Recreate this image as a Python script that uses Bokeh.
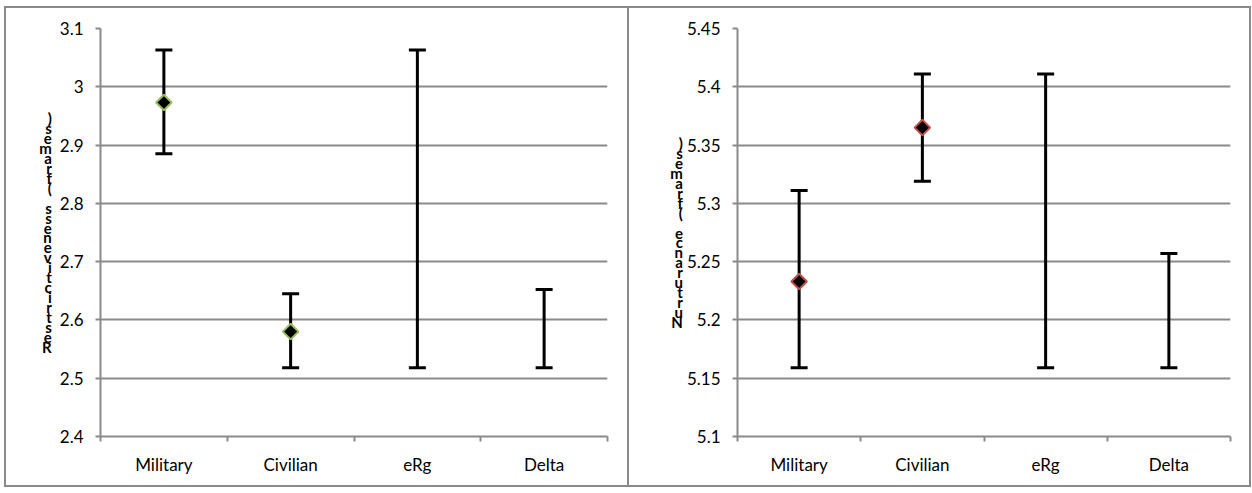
import math
from bokeh.plotting import figure
from bokeh.models import FixedTicker, Range1d, ColumnDataSource, Whisker, TeeHead, Spacer
from bokeh.layouts import row, column
from bokeh.embed import file_html
from bokeh.resources import INLINE

# ---- data ----
categories = ["Military", "Civilian", "eRg", "Delta"]
marker_categories = ["Military", "Civilian"]

left_lower = [2.885, 2.518, 2.518, 2.518]
left_upper = [3.063, 2.645, 3.063, 2.652]
left_means = [2.973, 2.580]
left_ticks = [2.4, 2.5, 2.6, 2.7, 2.8, 2.9, 3.0, 3.1]
left_tick_labels = ["2.4", "2.5", "2.6", "2.7", "2.8", "2.9", "3", "3.1"]
left_ylabel = "Restrictiveness (frames)"

right_lower = [5.159, 5.319, 5.159, 5.159]
right_upper = [5.311, 5.411, 5.411, 5.257]
right_means = [5.233, 5.365]
right_ticks = [5.1, 5.15, 5.2, 5.25, 5.3, 5.35, 5.4, 5.45]
right_tick_labels = ["5.1", "5.15", "5.2", "5.25", "5.3", "5.35", "5.4", "5.45"]
right_ylabel = "Nurturance (frames)"

GRID = "#8a8a8a"
FONT = "Lato"


def make_panel(lower, upper, means, ticks, tick_labels, ylabel, marker_color,
               width, mb_left, mb_right, label_standoff):
    p = figure(width=width, height=477, output_backend="svg", toolbar_location=None,
               x_range=Range1d(0, len(categories)),
               y_range=Range1d(ticks[0], ticks[-1]),
               min_border_left=mb_left, min_border_right=mb_right,
               min_border_top=20, min_border_bottom=49,
               styles={"outline": "2px solid " + GRID})
    p.outline_line_color = None
    p.background_fill_color = "white"
    p.border_fill_color = "white"

    xs = [i + 0.5 for i in range(len(categories))]
    src = ColumnDataSource(dict(x=xs, lower=lower, upper=upper))
    w = Whisker(base="x", upper="upper", lower="lower", source=src,
                line_color="black", line_width=3,
                upper_head=TeeHead(size=17, line_width=3, line_color="black"),
                lower_head=TeeHead(size=17, line_width=3, line_color="black"))
    p.add_layout(w)

    mx = [categories.index(c) + 0.5 for c in marker_categories]
    p.scatter(x=mx, y=means, marker="square", size=11, angle=math.pi / 4,
              fill_color="black", line_color=marker_color, line_width=2)

    # x axis: ticks at category boundaries, labels at centres
    xa = p.xaxis[0]
    xa.ticker = FixedTicker(ticks=xs, minor_ticks=list(range(len(categories) + 1)))
    xa.major_label_overrides = {x: c for x, c in zip(xs, categories)}
    xa.major_tick_out = 0
    xa.major_tick_in = 0
    xa.minor_tick_out = 5
    xa.minor_tick_in = 0
    xa.minor_tick_line_color = GRID
    xa.minor_tick_line_width = 2
    xa.axis_line_color = GRID
    xa.axis_line_width = 2
    xa.major_label_standoff = 12
    xa.major_label_text_font = FONT
    xa.major_label_text_font_size = "17px"
    xa.major_label_text_color = "black"

    ya = p.yaxis[0]
    ya.ticker = FixedTicker(ticks=ticks, minor_ticks=[])
    ya.major_label_overrides = {t: l for t, l in zip(ticks, tick_labels)}
    ya.major_tick_out = 5
    ya.major_tick_in = 0
    ya.major_tick_line_color = GRID
    ya.major_tick_line_width = 2
    ya.axis_line_color = GRID
    ya.axis_line_width = 2
    ya.major_label_standoff = 12
    ya.major_label_text_font = FONT
    ya.major_label_text_font_size = "17px"
    ya.major_label_text_color = "black"
    ya.axis_label = "\n".join(reversed(ylabel))
    ya.axis_label_orientation = "horizontal"
    ya.axis_label_text_font = FONT
    ya.axis_label_text_font_style = "bold"
    ya.axis_label_text_font_size = "15px"
    ya.axis_label_text_line_height = 0.555
    ya.axis_label_text_color = "black"
    ya.axis_label_standoff = label_standoff

    p.xgrid.visible = False
    p.ygrid.ticker = FixedTicker(ticks=ticks, minor_ticks=[])
    p.ygrid.grid_line_color = GRID
    p.ygrid.grid_line_width = 2
    return p


p1 = make_panel(left_lower, left_upper, left_means, left_ticks, left_tick_labels,
                left_ylabel, "#9BBB59", 621, 94, 20, 5)
p2 = make_panel(right_lower, right_upper, right_means, right_ticks, right_tick_labels,
                right_ylabel, "#C0504D", 620, 108, 19, 1)

layout = column(Spacer(width=10, height=8),
                row(Spacer(width=4, height=10), p1, p2, spacing=2),
                spacing=0)
open("out.html", "w").write(file_html(layout, INLINE))
